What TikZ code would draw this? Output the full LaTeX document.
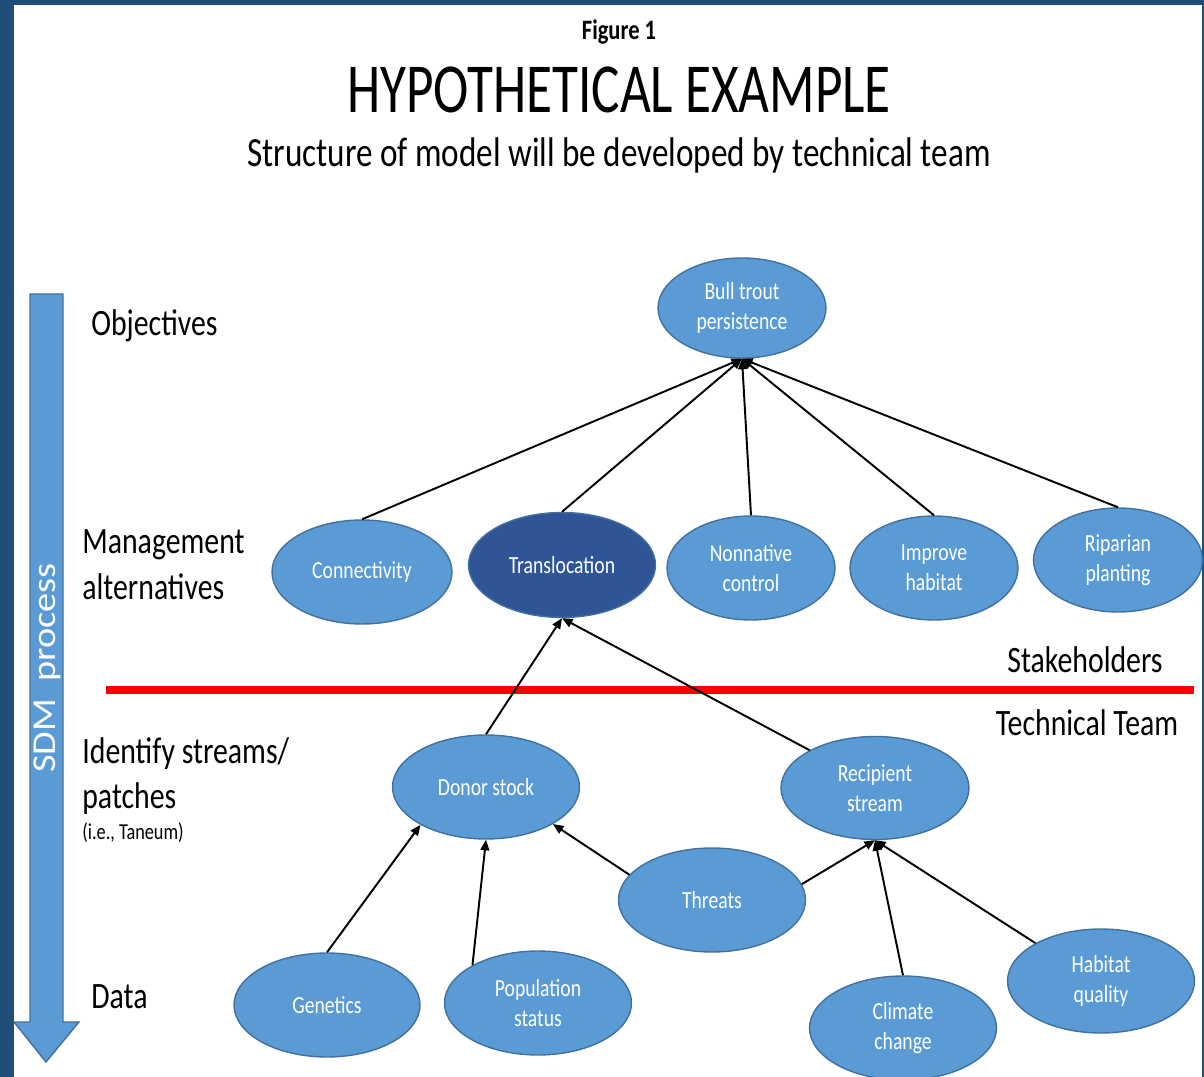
\documentclass[tikz,border=0pt]{standalone}
\usepackage{fontspec}
\setmainfont{Carlito}[FakeStretch=0.8]
\newfontfamily\titlefont{Carlito}[FakeStretch=0.757]
\newfontfamily\sdmfont{Carlito}[FakeStretch=1.15]
\usepackage{tikz}
\usetikzlibrary{arrows.meta, shapes.geometric}

\definecolor{slideblue}{RGB}{31,78,121}
\definecolor{nodeblue}{RGB}{91,155,213}
\definecolor{nodeedge}{RGB}{65,113,156}
\definecolor{darknode}{RGB}{47,85,151}

\begin{document}
\begin{tikzpicture}[x=0.02cm, y=-0.02cm,
  bubble/.style={ellipse, fill=nodeblue, draw=nodeedge, line width=0.8pt, text=white,
    align=center, inner sep=0pt, font=\fontsize{14}{17}\selectfont},
  link/.style={line width=1.1pt, -{Triangle[length=6pt, width=5pt]}},
  lbl/.style={anchor=west, inner sep=0pt, align=left, font=\fontsize{21.2}{26}\selectfont}]

  \useasboundingbox (0,0) rectangle (1204,1077);
  \clip (0,0) rectangle (1204,1077);
  % slide frame
  \fill[slideblue] (0,0) rectangle (1204,1077);
  \fill[white] (14,5) rectangle (1202,1077);

  % === TITLES ===
  \node[font=\bfseries\fontsize{16}{18}\selectfont] (fig) at (619,32) {Figure 1};
  \node[font=\titlefont\fontsize{40}{44}\selectfont] (title) at (619,90) {HYPOTHETICAL EXAMPLE};
  \node[font=\fontsize{23.6}{26}\selectfont] (subtitle) at (619,155) {Structure of model will be developed by technical team};

  % === SDM ARROW (left) ===
  \filldraw[fill=nodeblue, draw=nodeedge, line width=0.8pt]
    (30,294) -- (63,294) -- (63,1022) -- (79,1022) -- (46,1062) -- (14,1022) -- (30,1022) -- cycle;
  \node[rotate=90, text=white, font=\sdmfont\fontsize{19}{21}\selectfont] (sdm) at (47,668) {SDM\ \ process};

  % level labels
  \node[lbl] (objectives) at (91,326) {Objectives};
  \node[lbl] (mgmt) at (82,565) {Management\\alternatives};
  \node[lbl] (ident) at (82,776) {Identify streams/\\patches};
  \node[lbl, font=\fontsize{13}{15}\selectfont] (taneum) at (82,833) {(i.e., Taneum)};
  \node[lbl] (data) at (91,997) {Data};

  % === STAKEHOLDERS / TECHNICAL TEAM ===
  \draw[red, line width=4pt] (106,690) -- (1194,690);
  \node[font=\fontsize{21.2}{24}\selectfont] (stake) at (1085,660) {Stakeholders};
  \node[font=\fontsize{21.2}{24}\selectfont] (tech) at (1087,723) {Technical Team};

  % === NODES ===
  \node[bubble, minimum width=3.36cm, minimum height=2cm] (bull) at (742,308) {Bull trout\\persistence};

  \node[bubble, minimum width=3.6cm, minimum height=2.08cm] (conn) at (362,572) {Connectivity};
  \node[bubble, fill=darknode, minimum width=3.74cm, minimum height=2.1cm] (transl) at (562,565) {Translocation};
  \node[bubble, minimum width=3.36cm, minimum height=2.08cm] (nonnat) at (751,568) {Nonnative\\control};
  \node[bubble, minimum width=3.36cm, minimum height=2.08cm] (improve) at (934,568) {Improve\\habitat};
  \node[bubble, minimum width=3.38cm, minimum height=2.08cm] (riparian) at (1118,560) {Riparian\\planting};

  \node[bubble, minimum width=3.74cm, minimum height=2.08cm] (donor) at (486,787) {Donor stock};
  \node[bubble, minimum width=3.76cm, minimum height=2.06cm] (recip) at (875,788) {Recipient\\stream};
  \node[bubble, minimum width=3.74cm, minimum height=2.08cm] (threats) at (712,900) {Threats};

  \node[bubble, minimum width=3.72cm, minimum height=2.08cm] (genetics) at (327,1005) {Genetics};
  \node[bubble, minimum width=3.74cm, minimum height=2.08cm] (popstat) at (538,1003) {Population\\status};
  \node[bubble, minimum width=3.74cm, minimum height=2.08cm] (climate) at (903,1028) {Climate\\change};
  \node[bubble, minimum width=3.74cm, minimum height=2.08cm] (habqual) at (1101,981) {Habitat\\quality};

  % === ARROWS ===
  \draw[link] (conn.north) -- (bull.south);
  \draw[link] (transl.north) -- (bull.south);
  \draw[link] (nonnat.north) -- (bull.south);
  \draw[link] (improve.north) -- (bull.south);
  \draw[link] (riparian.north) -- (bull.south);

  \draw[link] (donor.north) -- (transl.south);
  \draw[link] (recip.150) -- (transl.south);

  \draw[link] (genetics.north) -- (donor.210);
  \draw[link] (popstat.150) -- (donor.south);
  \draw[link] (threats.163) -- (donor.331);
  \draw[link] (threats.10) -- (recip.south);
  \draw[link] (climate.north) -- (recip.south);
  \draw[link] (habqual.150) -- (recip.south);
\end{tikzpicture}
\end{document}
